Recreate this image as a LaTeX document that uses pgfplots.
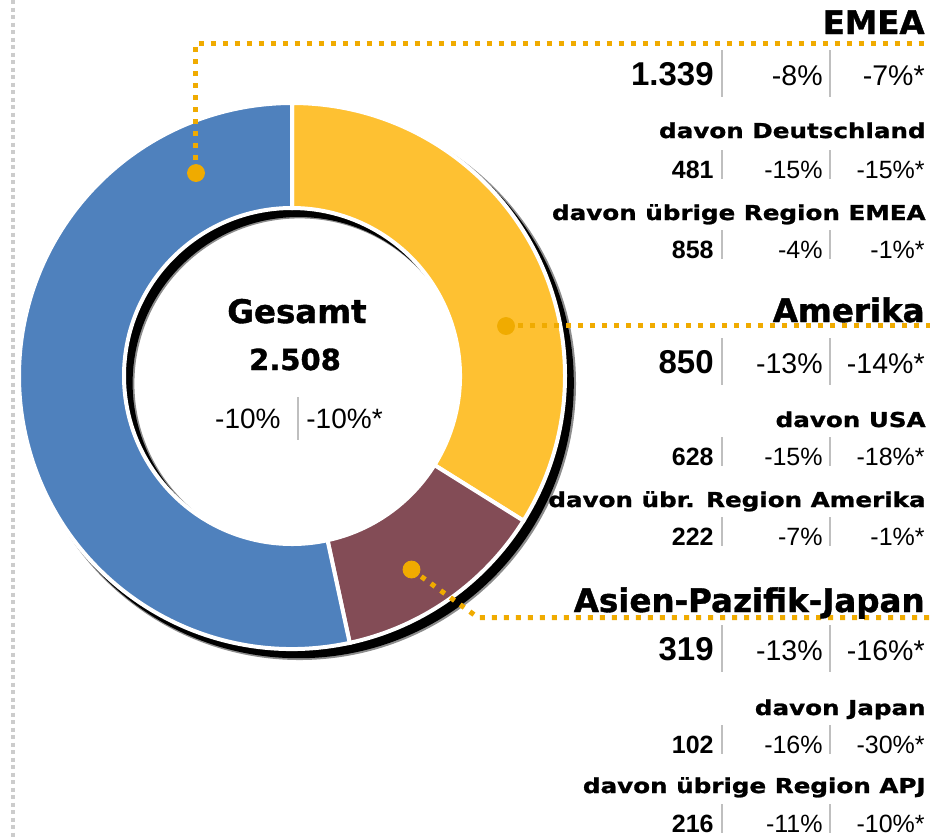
\documentclass[border=0pt]{standalone}
\usepackage{fontspec}
\setmainfont{Liberation Sans}
\newfontfamily\blackfont{DejaVu Sans}[UprightFont=* Bold, FakeBold=1.2]
\newfontfamily\blackwide{DejaVu Sans}[UprightFont=* Bold, FakeBold=1.2, FakeStretch=1.2]
\usepackage{pgfplots}
\usepackage{pgfplotstable}
\pgfplotsset{compat=1.18}
\usetikzlibrary{calc}

\definecolor{emeablue}{HTML}{4F81BD}
\definecolor{amyellow}{HTML}{FEC132}
\definecolor{apjred}{HTML}{834C56}
\definecolor{leader}{HTML}{F0AB00}
\definecolor{sepgray}{HTML}{BFBFBF}
\definecolor{dotgray}{HTML}{CCCCCC}

\newcommand\headfont{\blackfont\fontsize{16.25}{18}\selectfont}
\newcommand\subfont{\blackwide\fontsize{10.25}{12}\selectfont}
\newcommand\bignum{\bfseries\fontsize{16.5}{18}\selectfont}
\newcommand\bigpct{\fontsize{14.25}{16}\selectfont}
\newcommand\smallnum{\bfseries\fontsize{12.5}{14}\selectfont}
\newcommand\smallpct{\fontsize{12.5}{14}\selectfont}

% region totals (donut)
\pgfplotstableread{
region value
EMEA 1339
Amerika 850
APJ 319
}\regiontable

\def\Ro{136.5pt}
\def\Ri{84pt}

\newcommand\sector[3]{%
  \fill[#1, draw=white, line width=2pt]
    ($(C)+(#2:\Ro)$) arc[start angle=#2, end angle=#3, radius=\Ro]
    -- ($(C)+(#3:\Ri)$) arc[start angle=#3, end angle=#2, radius=\Ri] -- cycle;}

\newcommand\bigrow[4]{%
  \node[anchor=base east, inner sep=0] at (axis cs:714,#1) {\bignum #2};
  \node[anchor=base east, inner sep=0] at (axis cs:823,#1) {\bigpct #3};
  \node[anchor=base east, inner sep=0] at (axis cs:925,#1) {\bigpct #4};
  \draw[sepgray, line width=1pt] (axis cs:721.5,{#1-35}) -- (axis cs:721.5,{#1+12});
  \draw[sepgray, line width=1pt] (axis cs:830,{#1-35}) -- (axis cs:830,{#1+12});
}
\newcommand\smallrow[4]{%
  \node[anchor=base east, inner sep=0] at (axis cs:714,#1) {\smallnum #2};
  \node[anchor=base east, inner sep=0] at (axis cs:823,#1) {\smallpct #3};
  \node[anchor=base east, inner sep=0] at (axis cs:925,#1) {\smallpct #4};
  \draw[sepgray, line width=1pt] (axis cs:721.5,{#1-28}) -- (axis cs:721.5,{#1+1});
  \draw[sepgray, line width=1pt] (axis cs:830,{#1-28}) -- (axis cs:830,{#1+1});
}
\newcommand\heading[2]{%
  \node[anchor=base east, inner sep=0] at (axis cs:925,#1) {\headfont #2};}
\newcommand\subheading[2]{%
  \node[anchor=base east, inner sep=0] at (axis cs:926,#1) {\subfont #2};}

\begin{document}
\begin{tikzpicture}
\pgfplotstablegetelem{0}{value}\of\regiontable\let\vEMEA\pgfplotsretval
\pgfplotstablegetelem{1}{value}\of\regiontable\let\vAM\pgfplotsretval
\pgfplotstablegetelem{2}{value}\of\regiontable\let\vAPJ\pgfplotsretval
\pgfmathsetmacro\total{\vEMEA+\vAM+\vAPJ}
\pgfmathsetmacro\aAM{90-360*(\vAM/\total)}
\pgfmathsetmacro\aAPJ{\aAM-360*(\vAPJ/\total)}
\begin{axis}[
    x=0.5pt, y=0.5pt, y dir=reverse,
    xmin=0, xmax=935, ymin=0, ymax=837,
    hide axis, clip=false,
]
\coordinate (TL) at (axis cs:0,0);
\coordinate (BR) at (axis cs:935,837);
\coordinate (C) at (axis cs:292,376);

% grey dotted frame line on the left
\addplot[dotgray, line width=2pt, dash pattern=on 2pt off 1.75pt, no markers]
  coordinates {(13,0) (13,837)};

% shadow of the ring (soft edge + core)
\fill[black!45, even odd rule]
  ($(C)+(3.8pt,-3.8pt)$) circle[radius=138.2pt]
  ($(C)+(3.8pt,-3.8pt)$) circle[radius=82.6pt];
\fill[black, even odd rule]
  ($(C)+(3.3pt,-3.5pt)$) circle[radius=137.6pt]
  ($(C)+(3.3pt,-3.5pt)$) circle[radius=83pt];

% donut sectors, clockwise from the top
\sector{amyellow}{90}{\aAM}
\sector{apjred}{\aAM}{\aAPJ}
\sector{emeablue}{\aAPJ}{-270}

% leader lines
\addplot[leader, line width=2.5pt, dash pattern=on 2.5pt off 3.5pt, no markers]
  coordinates {(195,172) (195,43.5) (928,43.5)};
\addplot[leader, line width=2.5pt, dash pattern=on 2.5pt off 3.5pt, no markers]
  coordinates {(506,325.5) (930,325.5)};
\addplot[leader, line width=2.5pt, dash pattern=on 2.5pt off 3.5pt, no markers]
  coordinates {(411.5,569.5) (478,617.5) (932,617.5)};
\addplot[only marks, mark=*, mark size=4.25pt, leader, mark options={draw=none, fill=leader}]
  coordinates {(196,173) (506,326) (411.5,569.5)};

% centre
\node[anchor=base, inner sep=0] at (axis cs:297,323) {\headfont Gesamt};
\node[anchor=base, inner sep=0] at (axis cs:295,370) {\blackfont\fontsize{14.5}{16}\selectfont 2.508};
\node[anchor=base east, inner sep=0] at (axis cs:281,428) {\fontsize{14}{16}\selectfont -10\%};
\node[anchor=base west, inner sep=0] at (axis cs:306,428) {\fontsize{14}{16}\selectfont -10\%*};
\draw[sepgray, line width=1pt] (axis cs:298,397) -- (axis cs:298,440);

% EMEA
\heading{34}{EMEA}
\bigrow{85}{1.339}{-8\%}{-7\%*}
\subheading{138}{davon Deutschland}
\smallrow{178}{481}{-15\%}{-15\%*}
\subheading{220}{davon übrige Region EMEA}
\smallrow{258}{858}{-4\%}{-1\%*}

% Amerika
\heading{322}{Amerika}
\bigrow{373}{850}{-13\%}{-14\%*}
\subheading{427}{davon USA}
\smallrow{465}{628}{-15\%}{-18\%*}
\subheading{507}{davon übr. Region Amerika}
\smallrow{545}{222}{-7\%}{-1\%*}

% Asien-Pazifik-Japan
\heading{612}{Asien-Pazifik-Japan}
\bigrow{660}{319}{-13\%}{-16\%*}
\subheading{715}{davon Japan}
\smallrow{753}{102}{-16\%}{-30\%*}
\subheading{793}{davon übrige Region APJ}
\smallrow{832}{216}{-11\%}{-10\%*}
\end{axis}
\pgfresetboundingbox
\path[use as bounding box] (TL) rectangle (BR);
\end{tikzpicture}
\end{document}
